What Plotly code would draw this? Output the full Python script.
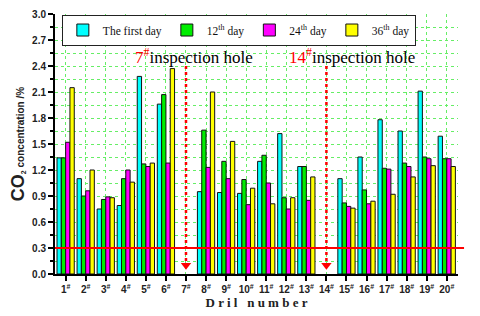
import plotly.graph_objects as go

drill_numbers = list(range(1, 21))
tick_labels = [f"{n}<sup>#</sup>" for n in drill_numbers]

series_names = ["The first day", "12<sup>th</sup> day", "24<sup>th</sup> day", "36<sup>th</sup> day"]
series_colors = ["#00FFFF", "#00EE00", "#FF00FF", "#FFFF00"]

first_day = [1.34, 1.10, 0.75, 0.79, 2.28, 1.96, None, 0.95, 0.94, 0.93, 1.30, 1.62, 1.24, None, 1.10, 1.35, 1.78, 1.65, 2.11, 1.59]
day_12 = [1.34, 0.90, 0.86, 1.10, 1.27, 2.07, None, 1.66, 1.30, 1.09, 1.37, 0.88, 1.24, None, 0.82, 0.97, 1.22, 1.28, 1.35, 1.33]
day_24 = [1.52, 0.96, 0.89, 1.20, 1.24, 1.28, None, 1.23, 1.10, 0.80, 1.05, 0.75, 0.85, None, 0.78, 0.81, 1.21, 1.24, 1.33, 1.33]
day_36 = [2.15, 1.20, 0.88, 1.06, 1.28, 2.37, None, 2.10, 1.53, 0.99, 0.81, 0.88, 1.12, None, 0.76, 0.84, 0.92, 1.12, 1.25, 1.24]
series_values = [first_day, day_12, day_24, day_36]

threshold = 0.3
inspection_holes = [7, 14]
inspection_label_shift = [-53, -39]
inspection_top = 2.4

serif = "Liberation Serif, Times New Roman, serif"
sans = "Liberation Sans, Arial, sans-serif"

fig = go.Figure()
for name, color, vals in zip(series_names, series_colors, series_values):
    fig.add_trace(go.Bar(
        x=drill_numbers, y=vals, name=name,
        marker=dict(color=color, line=dict(color="#111111", width=1)),
    ))

# inspection arrow heads
fig.add_trace(go.Scatter(
    x=inspection_holes, y=[0.1] * len(inspection_holes), mode="markers",
    marker=dict(symbol="triangle-down", color="red", size=9),
    showlegend=False, hoverinfo="skip", cliponaxis=False,
))

for h, shift in zip(inspection_holes, inspection_label_shift):
    fig.add_shape(type="line", x0=h, x1=h, y0=0.15, y1=inspection_top,
                  xref="x", yref="y", line=dict(color="red", width=2.5, dash="dot"))
    fig.add_annotation(
        x=h, y=inspection_top + 0.12, xref="x", yref="y", xanchor="left", yanchor="middle",
        xshift=shift,
        text=f"<span style='color:red'>{h}</span><sup><span style='color:red'>#</span></sup>inspection hole",
        showarrow=False, font=dict(family=serif, size=17, color="black"),
    )

fig.add_shape(type="line", x0=0, x1=1.015, y0=threshold, y1=threshold,
              xref="paper", yref="y", line=dict(color="red", width=2))

fig.update_layout(
    width=472, height=308,
    margin=dict(l=47, r=22, t=6, b=42, autoexpand=False),
    paper_bgcolor="white", plot_bgcolor="white",
    barmode="group", bargap=0.14, bargroupgap=0.0,
    showlegend=True,
    legend=dict(
        orientation="h", x=0.017, y=0.998, xanchor="left", yanchor="top",
        bgcolor="white", bordercolor="#222222", borderwidth=1,
        font=dict(family=serif, size=11.5, color="#111111"),
        itemwidth=30, traceorder="normal",
    ),
    xaxis=dict(
        range=[0.47, 20.56], tickvals=drill_numbers, ticktext=tick_labels,
        showline=True, linecolor="black", linewidth=2,
        ticks="outside", ticklen=5, tickwidth=1.5, tickcolor="black",
        tickfont=dict(family=sans, size=10, color="#222222", weight="bold"),
        showgrid=True, gridcolor="#66EE66", griddash="dot", gridwidth=1,
        zeroline=False, ticklabeloverflow="allow",
        title=dict(text="D r i l   n u m b e r", font=dict(family=serif, size=13, color="#222222", weight="bold"), standoff=2),
    ),
    yaxis=dict(
        range=[0, 3.0], tickvals=[round(0.3 * i, 1) for i in range(11)], tickformat=".1f",
        showline=True, linecolor="black", linewidth=2,
        ticks="outside", ticklen=5, tickwidth=1.5, tickcolor="black",
        tickfont=dict(family=sans, size=10, color="#222222", weight="bold"),
        showgrid=True, gridcolor="#66EE66", griddash="dot", gridwidth=1,
        minor=dict(dtick=0.15, ticks="outside", ticklen=3, tickcolor="black", showgrid=True, gridcolor="#66EE66", griddash="dot"),
        zeroline=False, ticklabeloverflow="allow",
        title=dict(text="<span style='font-size:18px'>CO</span><sub>2</sub> concentration /%",
                   font=dict(family=sans, size=10, color="#222222", weight="bold"), standoff=9),
    ),
)

fig.write_html("out.html")
